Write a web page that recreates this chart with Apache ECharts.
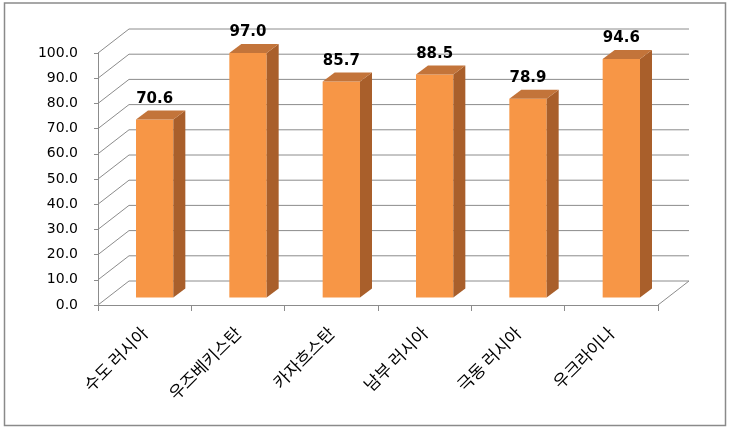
<!DOCTYPE html>
<html><head><meta charset="utf-8">
<script src="https://cdn.jsdelivr.net/npm/echarts@6/dist/echarts.min.js"></script>
<style>html,body{margin:0;padding:0;background:#fff}#c{width:732px;height:431px}</style>
</head><body><div id="c"></div>
<script>
const categories = ['수도 러시아','우즈베키스탄','카자흐스탄','남부 러시아','극동 러시아','우크라이나'];
const values = [70.6, 97.0, 85.7, 88.5, 78.9, 94.6];
const yTicks = [0,10,20,30,40,50,60,70,80,90,100];

const DX = 31, DY = -24;        // depth of the 3D box
const FX = 10, FY = -7.5;       // front face of bars inside the box
const SX = 12, SY = -9;         // bar depth
const GRID = '#8c8c8c';

const chart = echarts.init(document.getElementById('c'));
chart.setOption({
  animation: false,
  backgroundColor: '#fff',
  graphic: [{type:'rect', shape:{x:4.5,y:3,width:721,height:422.5}, style:{fill:'none', stroke:'#8a8a8a', lineWidth:1.5}, z:0}],
  grid: {left:98, right:74, top:53, bottom:126},
  xAxis: {
    type:'category', data: categories,
    axisLine:{show:true, lineStyle:{color:GRID, width:1}},
    axisTick:{show:true, length:6, lineStyle:{color:GRID}},
    axisLabel:{rotate:45, margin:25, fontSize:17, color:'#000', fontFamily:'Noto Sans CJK KR'},
    splitLine:{show:false}
  },
  yAxis: {
    type:'value', min:0, max:100, interval:10,
    axisLine:{show:true, lineStyle:{color:GRID, width:1}},
    axisTick:{show:true, length:4, lineStyle:{color:GRID}},
    axisLabel:{margin:20, fontSize:14, color:'#000', fontFamily:'DejaVu Sans', formatter: v => v.toFixed(1)},
    splitLine:{show:false}
  },
  series: [
    {
      type:'custom', z:1, clip:false, silent:true,
      data: yTicks.map(t => [0, t]),
      encode:{x:0, y:1},
      renderItem: function(params, api){
        const cs = params.coordSys;
        const v = api.value(1);
        const y = api.coord([0, v])[1];
        const x0 = cs.x, x1 = cs.x + cs.width;
        const st = {stroke:GRID, lineWidth:1, fill:null};
        const children = [
          {type:'line', shape:{x1:x0, y1:y, x2:x0+DX, y2:y+DY}, style:st},
          {type:'line', shape:{x1:x0+DX, y1:y+DY, x2:x1+DX, y2:y+DY}, style:st}
        ];
        if (v === 0) {
          children.push({type:'line', shape:{x1:x1, y1:y, x2:x1+DX, y2:y+DY}, style:st});
        }
        return {type:'group', children};
      }
    },
    {
      type:'custom', z:2, clip:false,
      data: values.map((v,i) => [i, v]),
      encode:{x:0, y:1},
      renderItem: function(params, api){
        const i = api.value(0), v = api.value(1);
        const base = api.coord([i, 0]);
        const top = api.coord([i, v]);
        const w = api.size([1,0])[0] * 0.4;
        const xl = base[0] + FX - w/2, xr = xl + w;
        const yb = base[1] + FY, yt = top[1] + FY;
        return {type:'group', children:[
          {type:'rect', shape:{x:xl, y:yt, width:w, height:yb-yt}, style:{fill:'#F79646'}},
          {type:'polygon', shape:{points:[[xr,yt],[xr+SX,yt+SY],[xr+SX,yb+SY],[xr,yb]]}, style:{fill:'#A95F2B'}},
          {type:'polygon', shape:{points:[[xl,yt],[xl+SX,yt+SY],[xr+SX,yt+SY],[xr,yt]]}, style:{fill:'#C3743A'}},
          {type:'text', style:{text: v.toFixed(1), x:(xl+xr)/2, y: yt+SY-4, align:'center', verticalAlign:'bottom',
            font:'bold 15px "DejaVu Sans"', fill:'#000'}}
        ]};
      }
    }
  ]
});
</script></body></html>
